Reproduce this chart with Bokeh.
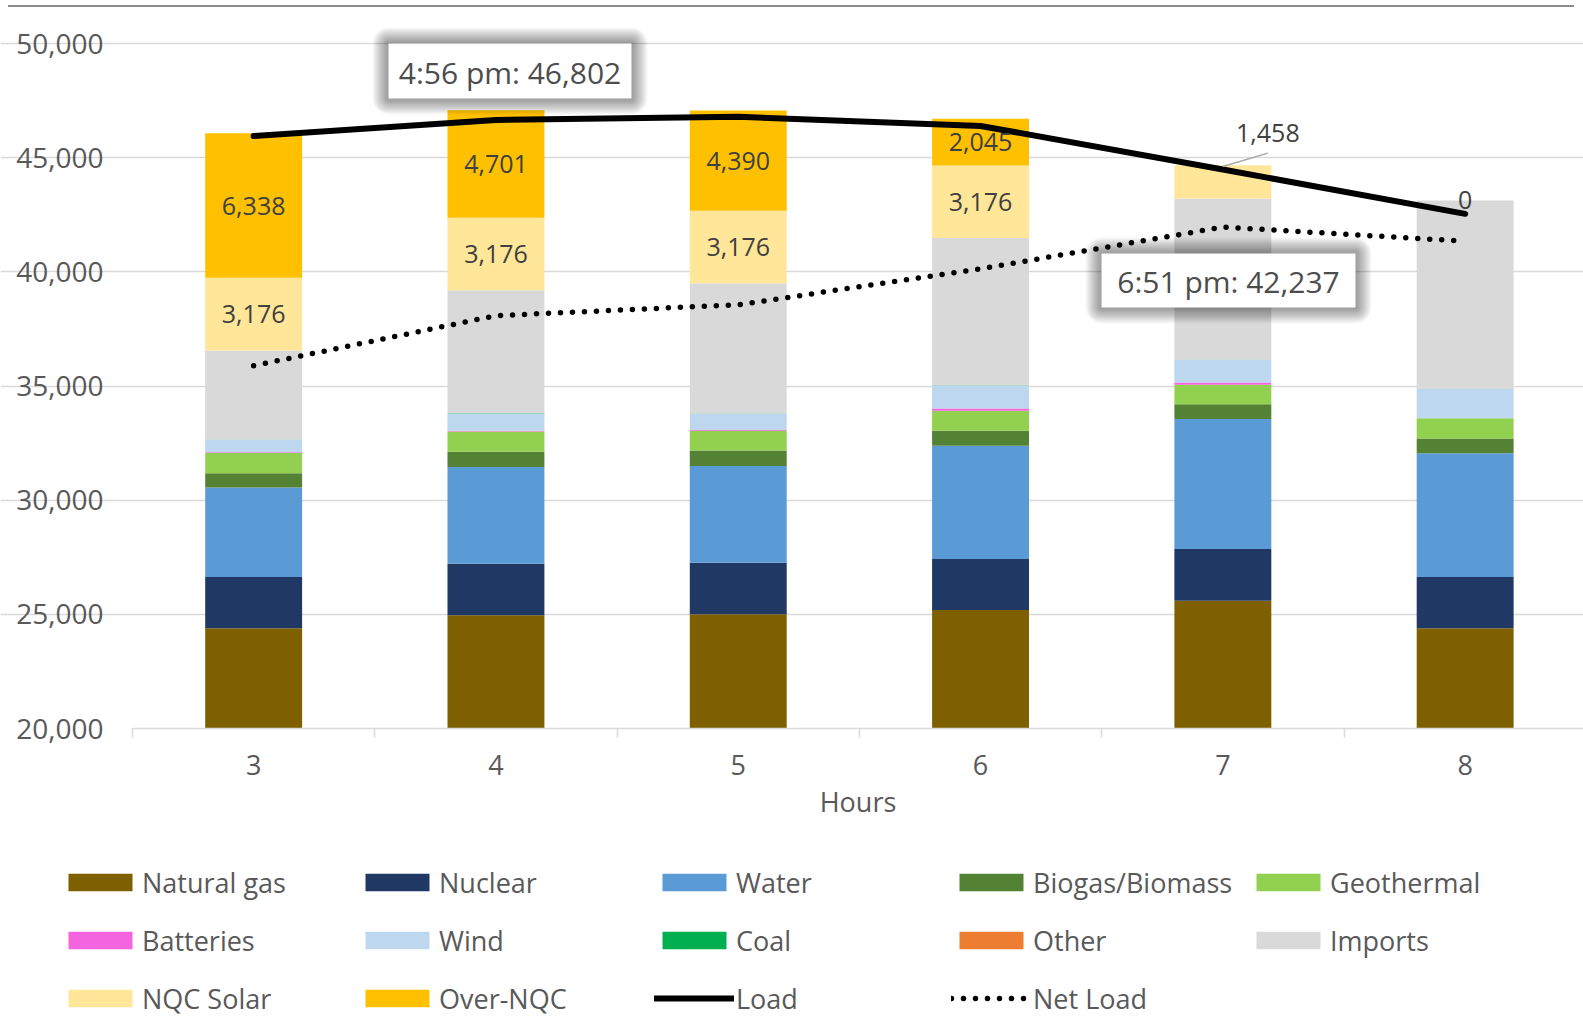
import numpy as np
from bokeh.plotting import figure
from bokeh.models import (ColumnDataSource, Range1d, FixedTicker, NumeralTickFormatter,
                          Legend, LegendItem, BoxAnnotation, Label, Div)
from bokeh.layouts import column
from bokeh.core.properties import value
from bokeh.embed import file_html
from bokeh.resources import INLINE

# ---- data (MW by hour) ----
hours = [3, 4, 5, 6, 7, 8]
natural_gas = [24390, 24960, 25000, 25190, 25590, 24390]
nuclear = [2240, 2250, 2260, 2230, 2270, 2250]
water = [3920, 4240, 4240, 4960, 5700, 5410]
biogas_biomass = [630, 670, 670, 660, 640, 650]
geothermal = [890, 890, 865, 880, 860, 890]
batteries = [30, 30, 40, 90, 90, 0]
wind = [530, 770, 710, 1010, 990, 1280]
coal = [15, 15, 15, 15, 15, 15]
other = [0, 0, 0, 0, 0, 0]
imports = [3915, 5370, 5700, 6445, 7060, 8240]
nqc_solar = [3176, 3176, 3176, 3176, 1458, 0]
over_nqc = [6338, 4701, 4390, 2045, 0, 0]
load = [45950, 46650, 46790, 46390, 44480, 42540]
net_load = [35890, 38080, 38560, 40130, 41960, 41340]

series_names = ["Natural gas", "Nuclear", "Water", "Biogas/Biomass", "Geothermal",
                "Batteries", "Wind", "Coal", "Other", "Imports", "NQC Solar", "Over-NQC"]
series_values = [natural_gas, nuclear, water, biogas_biomass, geothermal,
                 batteries, wind, coal, other, imports, nqc_solar, over_nqc]
series_colors = ["#7F6000", "#203864", "#5B9BD5", "#548235", "#92D050",
                 "#F564DF", "#BDD7EE", "#00B050", "#ED7D31", "#D9D9D9", "#FFE699", "#FFC000"]

y_ticks = [20000, 25000, 30000, 35000, 40000, 45000, 50000]
peak_load_text = "4:56 pm: 46,802"
peak_net_text = "6:51 pm: 42,237"

# ---- page geometry ----
W, H = 1583, 1017
STRIP = 8                      # thin rule above the chart
FIG_H = H - STRIP
LEFT = 132                     # x pixel of the value axis
AXIS_PX = 720                  # y pixel (within the figure) of the category axis
CAT_PX = 242.3
Y0, Y_PER_PX = 20000, 30000 / 685
X_START = 2.5 - LEFT / CAT_PX
X_END = 2.5 + (W - LEFT) / CAT_PX
Y_START = Y0 - (FIG_H - AXIS_PX) * Y_PER_PX
Y_END = Y0 + AXIS_PX * Y_PER_PX
FONT = "Open Sans"
GREY_TXT = "#595959"


def px_x(px):
    return X_START + px / CAT_PX


def px_y(py):
    return Y0 + (AXIS_PX + STRIP - py) * Y_PER_PX


p = figure(width=W, height=FIG_H, output_backend="svg", toolbar_location=None,
           x_range=Range1d(X_START, X_END), y_range=Range1d(Y_START, Y_END),
           min_border=0, outline_line_color=None,
           background_fill_color="white", border_fill_color="white")

# ---- stacked bars, floored at the axis minimum ----
vals = np.array(series_values, dtype=float)
tops = np.cumsum(vals, axis=0)
bottoms = tops - vals
bars = []
for name, color, b, t in zip(series_names, series_colors, bottoms, tops):
    src = ColumnDataSource(dict(hour=hours, bottom=np.maximum(b, Y0), top=t))
    bars.append(p.vbar(x="hour", width=0.4, bottom="bottom", top="top", source=src,
                       fill_color=color, line_color=None))

load_r = p.line(hours, load, line_color="black", line_width=6, line_cap="round")
net_r = p.line(hours, net_load, line_color="black", line_width=5.5,
               line_dash="0 12", line_cap="round")

# ---- axes ----
p.yaxis.fixed_location = 2.5
p.yaxis.ticker = FixedTicker(ticks=y_ticks)
p.yaxis.formatter = NumeralTickFormatter(format="0,0")
p.yaxis.axis_line_color = None
p.yaxis.major_tick_line_color = None
p.yaxis.minor_tick_line_color = None
p.yaxis.major_tick_out = 0
p.yaxis.major_label_standoff = 29
p.yaxis.major_label_text_font = FONT
p.yaxis.major_label_text_font_size = "28px"
p.yaxis.major_label_text_color = GREY_TXT

p.xaxis.fixed_location = Y0
p.xaxis.bounds = (2.5, X_END)
p.xaxis.ticker = FixedTicker(ticks=hours, minor_ticks=[2.5, 3.5, 4.5, 5.5, 6.5, 7.5, 8.5])
p.xaxis.axis_line_color = "#D9D9D9"
p.xaxis.axis_line_width = 1.5
p.xaxis.major_tick_line_color = None
p.xaxis.major_tick_out = 0
p.xaxis.major_tick_in = 0
p.xaxis.minor_tick_line_color = "#D9D9D9"
p.xaxis.minor_tick_line_width = 1.5
p.xaxis.minor_tick_out = 9
p.xaxis.minor_tick_in = 0
p.xaxis.major_label_standoff = 17
p.xaxis.major_label_text_font = FONT
p.xaxis.major_label_text_font_size = "27px"
p.xaxis.major_label_text_color = GREY_TXT
p.xaxis.axis_label = "Hours"
p.xaxis.axis_label_standoff = 5
p.xaxis.axis_label_text_font = FONT
p.xaxis.axis_label_text_font_size = "27px"
p.xaxis.axis_label_text_font_style = "normal"
p.xaxis.axis_label_text_color = GREY_TXT

p.xgrid.grid_line_color = None
p.ygrid.ticker = FixedTicker(ticks=y_ticks[1:])
p.ygrid.bounds = (2.5, X_END)
p.ygrid.grid_line_color = "#D9D9D9"
p.ygrid.grid_line_width = 1.5

# ---- data labels on the solar segments ----
base_solar = bottoms[10]
solar_top = tops[10]
lx, ly, lt = [], [], []
for i, h in enumerate(hours):
    s = nqc_solar[i]
    if 0 < s < 2000:
        continue
    lx.append(h)
    ly.append(base_solar[i] + s / 2)
    lt.append(f"{s:,}")
for i, h in enumerate(hours):
    o = over_nqc[i]
    if o > 0:
        lx.append(h)
        ly.append(solar_top[i] + o / 2)
        lt.append(f"{o:,}")
p.text(x=lx, y=ly, text=lt, text_align="center", text_baseline="middle",
       text_font=value(FONT), text_font_size="25px", text_color="#404040")

# small solar segment labelled above with a leader line
for i, h in enumerate(hours):
    s = nqc_solar[i]
    if 0 < s < 2000:
        top = solar_top[i]
        p.segment(x0=[h], y0=[top - 1.3 * Y_PER_PX], x1=[h + 45 / CAT_PX],
                  y1=[top + 12 * Y_PER_PX], line_color="#A6A6A6", line_width=1.5)
        p.text(x=[h + 45 / CAT_PX], y=[top + 32 * Y_PER_PX], text=[f"{s:,}"],
               text_align="center", text_baseline="middle",
               text_font=value(FONT), text_font_size="25px", text_color="#404040")


# ---- call-out boxes with soft shadow ----
def callout(l, t, r, b, text):
    for i in range(16, 0, -1):
        p.add_layout(BoxAnnotation(left=px_x(l - i), right=px_x(r + i),
                                   top=px_y(t - i), bottom=px_y(b + i),
                                   fill_color="black", fill_alpha=0.028,
                                   line_alpha=0, border_radius=i))
    p.add_layout(BoxAnnotation(left=px_x(l), right=px_x(r), top=px_y(t), bottom=px_y(b),
                               fill_color="white", fill_alpha=1.0, line_alpha=0))
    p.add_layout(Label(x=px_x((l + r) / 2), y=px_y((t + b) / 2 + 1), text=text,
                       text_align="center", text_baseline="middle",
                       text_font=FONT, text_font_size="30px", text_color="#4D4D4D"))


callout(388, 43, 631, 98, peak_load_text)
callout(1101, 253, 1355, 307, peak_net_text)

# ---- legend: three rows of five under the axis ----
items = [LegendItem(label=n, renderers=[r]) for n, r in zip(series_names, bars)]
items += [LegendItem(label="Load", renderers=[load_r]),
          LegendItem(label="Net Load", renderers=[net_r])]
legend = Legend(items=items, location=(60, -(1027 - H)),
                orientation="horizontal", ncols=5,
                glyph_width=80, glyph_height=22, label_standoff=2,
                label_width=215, label_height=58, spacing=0, padding=0, margin=0,
                border_line_color=None, background_fill_alpha=0,
                label_text_font=FONT, label_text_font_size="27px",
                label_text_color=GREY_TXT)
p.add_layout(legend)

rule = Div(text="", width=1566, height=2, margin=(5, 0, 1, 8),
           styles={"background-color": "#8C8C8C"})

layout = column(rule, p, spacing=0)
open("out.html", "w").write(file_html(layout, INLINE))
